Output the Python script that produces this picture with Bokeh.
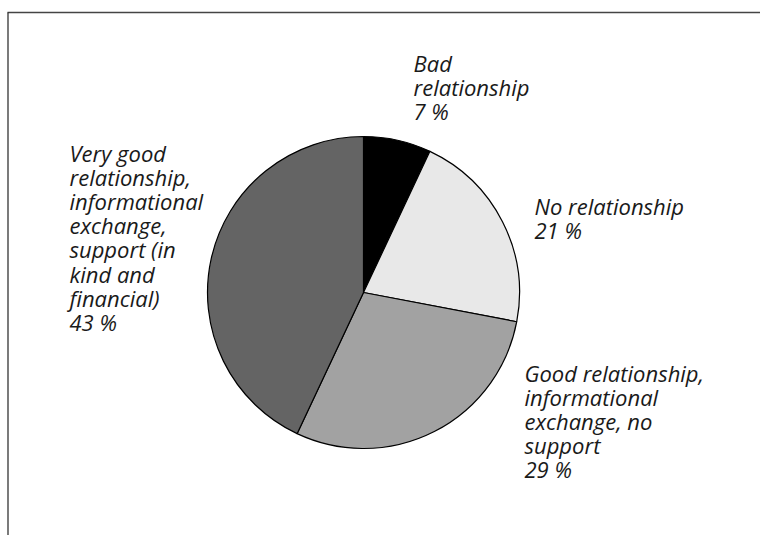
import math
from bokeh.plotting import figure
from bokeh.models import Range1d, ColumnDataSource
from bokeh.core.properties import value
from bokeh.embed import file_html
from bokeh.resources import INLINE

categories = ["Bad relationship", "No relationship",
              "Good relationship, informational exchange, no support",
              "Very good relationship, informational exchange, support (in kind and financial)"]
shares = [7, 21, 29, 43]
colors = ["#000000", "#e8e8e8", "#a2a2a2", "#646464"]
label_texts = ["Bad\nrelationship\n7 %",
               "No relationship\n21 %",
               "Good relationship,\ninformational\nexchange, no\nsupport\n29 %",
               "Very good\nrelationship,\ninformational\nexchange,\nsupport (in\nkind and\nfinancial)\n43 %"]

W, H = 760, 535
# label anchors in page pixels (left x, centre y of first line)
label_pos = [(413, 62), (534, 205), (524, 372), (69, 152)]
LINE_H = 24.2

def fx(px):
    return px

def fy(py):
    return H - py

p = figure(width=W, height=H, output_backend="svg", toolbar_location=None,
           x_range=Range1d(0, W), y_range=Range1d(0, H), min_border=0)
p.axis.visible = False
p.grid.visible = False
p.outline_line_color = None
p.background_fill_color = "white"

# frame lines (top and left)
p.line([fx(7), W], [fy(12), fy(12)], line_color="#444444", line_width=1.6)
p.line([fx(7.5), fx(7.5)], [fy(12), 0], line_color="#222222", line_width=1.2)

total = sum(shares)
starts, ends = [], []
cum = 0.0
for s in shares:
    starts.append(math.pi / 2 - 2 * math.pi * cum / total)
    cum += s
    ends.append(math.pi / 2 - 2 * math.pi * cum / total)

src = ColumnDataSource(dict(start=starts, end=ends, color=colors, name=categories))
p.wedge(x=fx(363), y=fy(292), radius=156, radius_units="data",
        start_angle="start", end_angle="end", direction="clock",
        fill_color="color", line_color="#000000", line_width=1.2, source=src)

xs, ys, ts = [], [], []
for (lx, ly), txt in zip(label_pos, label_texts):
    for i, line in enumerate(txt.split("\n")):
        xs.append(fx(lx))
        ys.append(fy(ly + i * LINE_H))
        ts.append(line)

p.text(x=xs, y=ys, text=ts, text_font=value("Open Sans"), text_font_style="italic",
       text_font_size="22px", text_baseline="middle", text_align="left",
       text_color="#1a1a1a")

open("out.html", "w").write(file_html(p, INLINE))
